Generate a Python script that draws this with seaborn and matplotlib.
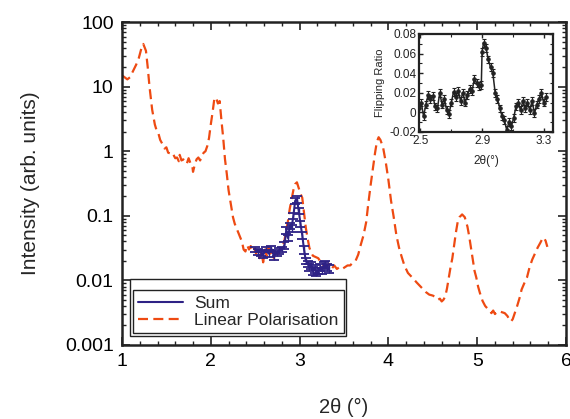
import numpy as np
import pandas as pd
import matplotlib
matplotlib.use("Agg")
import matplotlib.pyplot as plt
import seaborn as sns
from matplotlib.patches import Rectangle
from matplotlib.ticker import MultipleLocator, LogLocator, NullFormatter, FixedLocator

# ---------- data ----------
lp_x = [1.00, 1.03, 1.06, 1.09, 1.12, 1.16, 1.19, 1.22, 1.24, 1.27, 1.29, 1.31, 1.34, 1.37,
        1.39, 1.41, 1.43, 1.46, 1.48, 1.50, 1.52, 1.54, 1.56, 1.58, 1.60, 1.62, 1.64, 1.65,
        1.67, 1.69, 1.71, 1.73, 1.75, 1.77, 1.79, 1.80, 1.82, 1.84, 1.86, 1.88, 1.90, 1.92,
        1.94, 1.96, 1.98, 2.00, 2.02, 2.04, 2.06, 2.08, 2.10, 2.12, 2.14, 2.16, 2.18, 2.20,
        2.22, 2.25, 2.27, 2.29, 2.32, 2.35, 2.37, 2.39, 2.41, 2.43, 2.45, 2.47, 2.49, 2.51,
        2.53, 2.55, 2.57, 2.59, 2.61, 2.63, 2.65, 2.67, 2.69, 2.71, 2.73, 2.75, 2.77, 2.79,
        2.81, 2.83, 2.85, 2.87, 2.89, 2.91, 2.93, 2.95, 2.97, 2.99, 3.01, 3.03, 3.05, 3.07,
        3.09, 3.11, 3.13, 3.15, 3.18, 3.21, 3.24, 3.27, 3.30, 3.33, 3.36, 3.39, 3.42, 3.45,
        3.48, 3.51, 3.54, 3.57, 3.60, 3.63, 3.66, 3.69, 3.72, 3.75, 3.77, 3.80, 3.82, 3.85,
        3.87, 3.89, 3.91, 3.94, 3.97, 4.00, 4.03, 4.06, 4.09, 4.12, 4.15, 4.18, 4.22, 4.27,
        4.32, 4.37, 4.42, 4.46, 4.50, 4.53, 4.56, 4.58, 4.60, 4.62, 4.64, 4.66, 4.68, 4.70,
        4.72, 4.74, 4.76, 4.78, 4.80, 4.83, 4.86, 4.89, 4.91, 4.93, 4.95, 4.97, 4.99, 5.01,
        5.03, 5.06, 5.09, 5.12, 5.14, 5.16, 5.18, 5.20, 5.22, 5.25, 5.28, 5.31, 5.34, 5.36,
        5.38, 5.40, 5.43, 5.45, 5.48, 5.50, 5.53, 5.56, 5.59, 5.62, 5.65, 5.68, 5.71, 5.73,
        5.75, 5.77, 5.79]
lp_y = [15, 14, 13, 14, 17, 22, 28, 40, 46, 36, 20, 10, 4.4, 2.6,
        2.1, 1.9, 1.5, 1.26, 1.1, 1.15, 0.95, 0.93, 0.85, 0.88, 0.78, 0.80, 0.70, 0.88,
        0.72, 0.75, 0.68, 0.64, 0.78, 0.66, 0.62, 0.48, 0.62, 0.75, 0.80, 0.72, 0.85, 0.95,
        1.0, 1.2, 1.6, 2.6, 4.0, 6.5, 6.8, 5.5, 6.0, 3.0, 1.6, 0.75, 0.45, 0.25,
        0.17, 0.095, 0.075, 0.064, 0.050, 0.040, 0.030, 0.028, 0.035, 0.030, 0.034, 0.028, 0.031, 0.026,
        0.030, 0.022, 0.027, 0.019, 0.030, 0.024, 0.032, 0.026, 0.028, 0.022, 0.030, 0.025, 0.028, 0.034,
        0.033, 0.042, 0.060, 0.085, 0.13, 0.18, 0.25, 0.31, 0.33, 0.27, 0.22, 0.19, 0.11, 0.065,
        0.045, 0.032, 0.027, 0.024, 0.023, 0.022, 0.019, 0.017, 0.016, 0.018, 0.015, 0.017, 0.015, 0.016,
        0.015, 0.016, 0.017, 0.017, 0.019, 0.020, 0.025, 0.036, 0.050, 0.080, 0.14, 0.30, 0.48, 0.95,
        1.4, 1.65, 1.5, 1.15, 0.68, 0.36, 0.17, 0.095, 0.050, 0.032, 0.023, 0.017, 0.013, 0.011,
        0.0092, 0.0078, 0.0066, 0.0060, 0.0058, 0.0055, 0.0050, 0.0052, 0.0047, 0.0050, 0.0056, 0.0075, 0.011, 0.016,
        0.022, 0.035, 0.055, 0.080, 0.095, 0.105, 0.095, 0.068, 0.048, 0.032, 0.021, 0.014, 0.011, 0.0080,
        0.0064, 0.0048, 0.0040, 0.0036, 0.0034, 0.0031, 0.0034, 0.0030, 0.0032, 0.0033, 0.0032, 0.0031, 0.0028, 0.0025,
        0.0023, 0.0025, 0.0033, 0.0040, 0.0055, 0.0072, 0.0090, 0.011, 0.016, 0.021, 0.026, 0.032, 0.038, 0.043,
        0.046, 0.041, 0.033]

sum_x = [2.50, 2.53, 2.56, 2.59, 2.62, 2.65, 2.68, 2.71, 2.74, 2.77, 2.80, 2.83, 2.85,
         2.87, 2.89, 2.91, 2.93, 2.95, 2.97, 2.99, 3.01, 3.03, 3.05, 3.07, 3.09, 3.11,
         3.13, 3.15, 3.17, 3.19, 3.21, 3.23, 3.25, 3.27, 3.29, 3.31, 3.33]
sum_y = [0.030, 0.028, 0.027, 0.025, 0.030, 0.026, 0.031, 0.024, 0.027, 0.029, 0.030, 0.035, 0.060,
         0.045, 0.070, 0.065, 0.100, 0.170, 0.180, 0.120, 0.075, 0.050, 0.030, 0.020, 0.018, 0.016,
         0.017, 0.014, 0.015, 0.013, 0.014, 0.016, 0.014, 0.017, 0.018, 0.016, 0.015]
sum_err = [0.003, 0.003, 0.003, 0.003, 0.003, 0.003, 0.003, 0.003, 0.003, 0.003, 0.003, 0.004, 0.007,
           0.005, 0.008, 0.008, 0.012, 0.020, 0.020, 0.014, 0.009, 0.006, 0.004, 0.002, 0.002, 0.002,
           0.002, 0.002, 0.002, 0.0015, 0.0015, 0.002, 0.0015, 0.002, 0.002, 0.002, 0.002]

fr_x = [2.490, 2.505, 2.520, 2.535, 2.550, 2.565, 2.580, 2.595, 2.610, 2.625, 2.640, 2.655,
        2.670, 2.685, 2.700, 2.715, 2.730, 2.745, 2.760, 2.775, 2.790, 2.805, 2.820, 2.835,
        2.850, 2.865, 2.880, 2.895, 2.900, 2.910, 2.925, 2.940, 2.955, 2.970, 2.985, 3.000,
        3.015, 3.030, 3.045, 3.060, 3.075, 3.090, 3.105, 3.120, 3.135, 3.150, 3.165, 3.180,
        3.195, 3.210, 3.225, 3.240, 3.255, 3.270, 3.285, 3.300, 3.315]
fr_y = [0.004, 0.010, -0.004, 0.008, 0.018, 0.014, 0.017, 0.006, 0.004, 0.020, 0.008, 0.014,
        0.002, -0.002, 0.010, 0.021, 0.016, 0.022, 0.012, 0.020, 0.010, 0.018, 0.024, 0.022,
        0.034, 0.030, 0.027, 0.028, 0.062, 0.071, 0.066, 0.054, 0.046, 0.040, 0.020, 0.014,
        0.004, -0.004, -0.008, -0.018, -0.010, -0.014, -0.006, 0.006, 0.010, 0.002, 0.012, 0.004,
        0.010, 0.002, 0.012, -0.001, 0.008, 0.014, 0.020, 0.010, 0.016]
fr_err = 0.004

x_ticks = [1, 2, 3, 4, 5, 6]
y_ticks = [0.001, 0.01, 0.1, 1, 10, 100]
y_labels = ["0.001", "0.01", "0.1", "1", "10", "100"]

ORANGE = "#EE4A12"
NAVY = "#2E2285"
DARK = "#222222"

sns.set_style("ticks")
plt.rcParams["font.family"] = ["Liberation Sans", "DejaVu Sans"]

lp = pd.DataFrame({"x": lp_x, "y": lp_y})
sm = pd.DataFrame({"x": sum_x, "y": sum_y})

fig = plt.figure(figsize=(5.7, 4.19), dpi=100)
ax = fig.add_axes([0.214, 0.177, 0.779, 0.770])

sns.lineplot(data=lp, x="x", y="y", ax=ax, color=ORANGE, lw=1.6,
             dashes=False, linestyle=(0, (4.5, 2.4)), label="Linear Polarisation", zorder=2)
ax.errorbar(sum_x, sum_y, yerr=sum_err, fmt="none", ecolor=NAVY, elinewidth=1.0,
            capsize=3.5, capthick=1.3, zorder=3)
sns.lineplot(data=sm, x="x", y="y", ax=ax, color=NAVY, lw=1.5, label="Sum", zorder=4)

ax.set_yscale("log")
ax.set_xlim(1, 6)
ax.set_ylim(0.001, 100)
ax.xaxis.set_major_locator(FixedLocator(x_ticks))
ax.xaxis.set_minor_locator(MultipleLocator(0.2))
ax.yaxis.set_major_locator(FixedLocator(y_ticks))
ax.set_yticklabels(y_labels)
ax.yaxis.set_minor_locator(LogLocator(base=10, subs=np.arange(2, 10), numticks=20))
ax.yaxis.set_minor_formatter(NullFormatter())
ax.tick_params(which="both", direction="in", top=True, right=True, colors=DARK,
               labelsize=14, labelcolor="black")
ax.tick_params(which="major", length=6, width=1.2, pad=6)
ax.tick_params(which="minor", length=3, width=1.0)
for s in ax.spines.values():
    s.set_linewidth(1.8)
    s.set_color(DARK)
ax.set_xlabel("2θ (°)", fontsize=14.5, labelpad=20)
ax.set_ylabel("Intensity (arb. units)", fontsize=15, labelpad=18)

# legend with double frame
handles, labels = ax.get_legend_handles_labels()
order = [labels.index("Sum"), labels.index("Linear Polarisation")]
leg = ax.legend([handles[i] for i in order], [labels[i] for i in order],
                loc="lower left", bbox_to_anchor=(0.025, 0.037, 0.474, 0.158), mode="expand",
                fontsize=12.5, handlelength=2.6, handletextpad=0.6, borderaxespad=0,
                fancybox=False, framealpha=1, edgecolor=DARK, labelspacing=0.1,
                borderpad=0.3)
leg.get_frame().set_linewidth(1.0)
ax.add_patch(Rectangle((0.018, 0.028), 0.487, 0.176, transform=ax.transAxes,
                       fill=False, ec=DARK, lw=1.0, zorder=6))

# inset: flipping ratio
ins = fig.add_axes([0.735, 0.685, 0.235, 0.234])
ins.errorbar(fr_x, fr_y, yerr=fr_err, fmt="none", ecolor=DARK, elinewidth=0.8,
             capsize=1.5, capthick=0.8, zorder=2)
sns.lineplot(x=fr_x, y=fr_y, ax=ins, color=DARK, lw=1.1, marker="o", ms=2.5,
             mec=DARK, zorder=3)
ins.set_xlim(2.49, 3.36)
ins.set_ylim(-0.02, 0.08)
ins.xaxis.set_major_locator(FixedLocator([2.5, 2.9, 3.3]))
ins.xaxis.set_minor_locator(FixedLocator([2.7, 3.1]))
ins.yaxis.set_major_locator(FixedLocator([-0.02, 0, 0.02, 0.04, 0.06, 0.08]))
ins.set_yticklabels(["-0.02", "0", "0.02", "0.04", "0.06", "0.08"])
ins.yaxis.set_minor_locator(FixedLocator([-0.01, 0.01, 0.03, 0.05, 0.07]))
ins.tick_params(which="both", direction="in", top=True, right=True, colors=DARK,
                labelsize=8.5, labelcolor="#222222", pad=2)
ins.tick_params(which="major", length=3, width=1.0)
ins.tick_params(which="minor", length=2, width=0.8)
for s in ins.spines.values():
    s.set_linewidth(1.6)
    s.set_color(DARK)
ins.set_xlabel("2θ(°)", fontsize=8.5, labelpad=6)
ins.set_ylabel("Flipping Ratio", fontsize=8, labelpad=3)

fig.savefig("out.png", dpi=100)
